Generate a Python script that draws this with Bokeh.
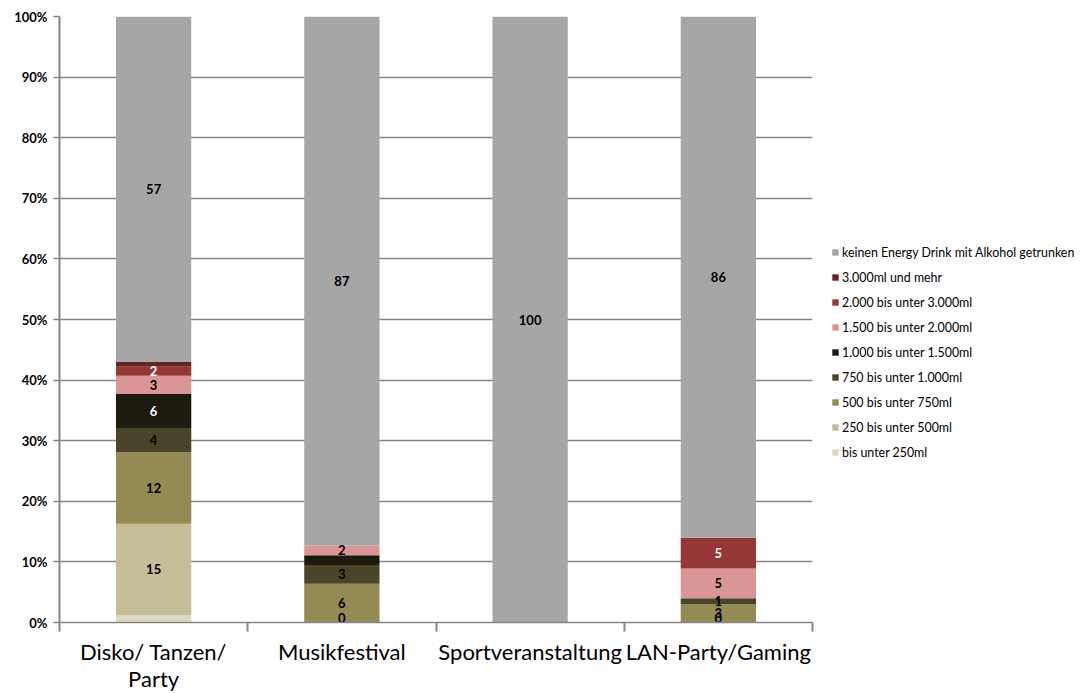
from bokeh.plotting import figure
from bokeh.models import ColumnDataSource, FixedTicker, Legend, LegendItem, Range1d
from bokeh.core.properties import value
from bokeh.embed import file_html
from bokeh.resources import INLINE

# Occasions (x categories)
categories = ["Disko/ Tanzen/\nParty", "Musikfestival", "Sportveranstaltung", "LAN-Party/Gaming"]

# Share of respondents (%) per amount of alcoholic energy drink, stacked bottom to top
bis_250 = [1.2, 0.0, 0.0, 0.0]
von_250_500 = [15.1, 0.0, 0.0, 0.0]
von_500_750 = [11.8, 6.4, 0.0, 3.0]
von_750_1000 = [4.0, 3.1, 0.0, 1.0]
von_1000_1500 = [5.6, 1.6, 0.0, 0.0]
von_1500_2000 = [3.0, 1.6, 0.0, 4.9]
von_2000_3000 = [1.5, 0.0, 0.0, 5.1]
ab_3000 = [0.8, 0.0, 0.0, 0.0]
keinen = [57.0, 87.3, 100.0, 86.0]

series_names = [
    "bis unter 250ml",
    "250 bis unter 500ml",
    "500 bis unter 750ml",
    "750 bis unter 1.000ml",
    "1.000 bis unter 1.500ml",
    "1.500 bis unter 2.000ml",
    "2.000 bis unter 3.000ml",
    "3.000ml und mehr",
    "keinen Energy Drink mit Alkohol getrunken",
]
series_values = [bis_250, von_250_500, von_500_750, von_750_1000, von_1000_1500,
                 von_1500_2000, von_2000_3000, ab_3000, keinen]

# Which segments carry a value label
label_shown = [
    [False, True, False, True],
    [True, False, False, False],
    [True, True, False, True],
    [True, True, False, True],
    [True, False, False, False],
    [True, True, False, True],
    [True, False, False, True],
    [False, False, False, False],
    [True, True, True, True],
]

y_ticks = [0, 10, 20, 30, 40, 50, 60, 70, 80, 90, 100]
y_tick_labels = ["0%", "10%", "20%", "30%", "40%", "50%", "60%", "70%", "80%", "90%", "100%"]

colors = ["#DDD9C3", "#C4BD97", "#948A54", "#4A452A", "#1D1B10",
          "#D99694", "#953735", "#632523", "#A6A6A6"]
label_colors = ["black", "black", "black", "black", "white",
                "black", "white", "black", "black"]

FONT = "Lato"
GRID = "#868686"

p = figure(frame_width=753, frame_height=606, output_backend="svg", toolbar_location=None,
           x_range=Range1d(0, len(categories)), y_range=Range1d(0, 100),
           min_border_left=59, min_border_right=0, min_border_top=16,
           min_border_bottom=0)
p.outline_line_color = None
p.background_fill_color = "white"

xs = [i + 0.5 for i in range(len(categories))]
keys = [f"s{i}" for i in range(len(series_values))]
data = {"x": xs}
for k, vals in zip(keys, series_values):
    data[k] = vals
src = ColumnDataSource(data)

renderers = p.vbar_stack(keys, x="x", width=0.4, source=src, color=colors, line_color=None)

# Value labels centred in each segment; zero-height segments sit on the baseline,
# so their label is nudged up to stay inside the frame
lx, ly, lt, lc, loff = [], [], [], [], []
for si, vals in enumerate(series_values):
    for ci, v in enumerate(vals):
        base = sum(series_values[k][ci] for k in range(si))
        if label_shown[si][ci]:
            lx.append(xs[ci])
            ly.append(base + v / 2)
            lt.append(str(int(v + 0.5)))
            lc.append(label_colors[si])
            loff.append(-5 if base + v / 2 == 0 else 0)
p.text(x="x", y="y", text="t", text_color="c", y_offset="off",
       source=ColumnDataSource(dict(x=lx, y=ly, t=lt, c=lc, off=loff)),
       text_align="center", text_baseline="middle",
       text_font=value(FONT), text_font_size="13px", text_font_style="bold")

# Y axis
p.yaxis.ticker = FixedTicker(ticks=y_ticks)
p.yaxis.major_label_overrides = {t: s for t, s in zip(y_ticks, y_tick_labels)}
p.yaxis.axis_line_color = GRID
p.yaxis.axis_line_width = 2
p.yaxis.major_tick_line_color = GRID
p.yaxis.major_tick_line_width = 1.5
p.yaxis.major_tick_out = 6
p.yaxis.major_tick_in = 0
p.yaxis.minor_tick_line_color = None
p.yaxis.major_label_text_font = FONT
p.yaxis.major_label_text_font_size = "13px"
p.yaxis.major_label_text_font_style = "bold"
p.yaxis.major_label_text_color = "black"
p.yaxis.major_label_standoff = 6

# X axis: labels at category centres, tick marks at category boundaries
p.xaxis.ticker = FixedTicker(ticks=xs, minor_ticks=list(range(len(categories) + 1)))
p.xaxis.major_label_overrides = {x: c for x, c in zip(xs, categories)}
p.xaxis.axis_line_color = GRID
p.xaxis.axis_line_width = 1.5
p.xaxis.major_tick_line_color = None
p.xaxis.major_tick_out = 0
p.xaxis.major_tick_in = 0
p.xaxis.minor_tick_line_color = GRID
p.xaxis.minor_tick_line_width = 2
p.xaxis.minor_tick_out = 9
p.xaxis.minor_tick_in = 0
p.xaxis.major_label_text_font = FONT
p.xaxis.major_label_text_font_size = "22px"
p.xaxis.major_label_text_line_height = 1.0
p.xaxis.major_label_text_color = "black"
p.xaxis.major_label_standoff = 6

p.xgrid.grid_line_color = None
p.ygrid.ticker = FixedTicker(ticks=y_ticks)
p.ygrid.grid_line_color = GRID
p.ygrid.grid_line_width = 1.5

# Legend beside the frame, top entry = top of the stack
items = [LegendItem(label=n, renderers=[r]) for n, r in zip(series_names, renderers)]
legend = Legend(items=items[::-1], location=(19, 160), orientation="vertical",
                glyph_width=8, glyph_height=8, label_height=20, spacing=5,
                label_standoff=3, padding=24, margin=0,
                border_line_color=None, background_fill_alpha=0,
                label_text_font=FONT, label_text_font_size="12.4px",
                label_text_color="black")
p.add_layout(legend, "right")

open("out.html", "w").write(file_html(p, INLINE))
